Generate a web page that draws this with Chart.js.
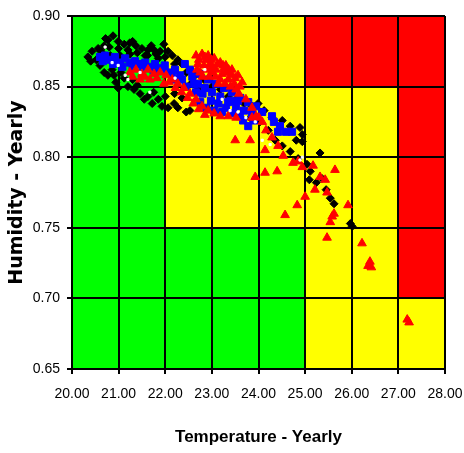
<!DOCTYPE html>
<html>
<head>
<meta charset="utf-8">
<script src="https://cdn.jsdelivr.net/npm/chart.js@4.4.1/dist/chart.umd.min.js"></script>
<style>
  html, body { margin: 0; padding: 0; background: #fff; }
  #climate { display: block; }
</style>
</head>
<body>
<canvas id="climate" width="464" height="453"></canvas>
<script>
'use strict';

// comfort zones (temperature range x humidity range)
var zoneXFrom = [20, 22, 22, 25, 25, 27, 27];
var zoneXTo   = [22, 25, 25, 27, 27, 28, 28];
var zoneYFrom = [0.65, 0.65, 0.75, 0.65, 0.85, 0.65, 0.70];
var zoneYTo   = [0.90, 0.75, 0.90, 0.85, 0.90, 0.70, 0.90];
var zoneLevel = ['ok', 'ok', 'warn', 'warn', 'bad', 'warn', 'bad'];

var xTicks = [20, 21, 22, 23, 24, 25, 26, 27, 28];
var yTicks = [0.65, 0.70, 0.75, 0.80, 0.85, 0.90];

// yearly temperature / humidity pairs per station group
var blackPts = [
    [20.34, 0.871], [20.43, 0.875], [20.52, 0.869], [20.56, 0.877], [20.69, 0.879],
    [20.77, 0.883], [20.88, 0.886], [20.99, 0.882], [21.12, 0.880], [21.24, 0.881],
    [21.37, 0.879], [21.50, 0.877], [21.63, 0.876], [21.76, 0.876], [21.89, 0.875],
    [21.97, 0.880], [22.06, 0.875], [22.15, 0.872], [22.27, 0.869], [22.36, 0.866],
    [20.60, 0.865], [20.69, 0.860], [20.77, 0.858], [20.86, 0.862], [20.94, 0.853],
    [20.99, 0.849], [21.12, 0.856], [21.20, 0.850], [21.33, 0.848], [21.46, 0.845],
    [21.55, 0.841], [21.63, 0.843], [21.72, 0.838], [21.85, 0.841], [21.93, 0.836],
    [22.06, 0.835], [22.19, 0.838], [22.27, 0.835], [22.36, 0.842], [22.45, 0.832],
    [22.53, 0.833], [21.03, 0.872], [21.24, 0.873], [21.57, 0.872], [21.85, 0.870],
    [20.82, 0.872], [22.45, 0.860], [22.64, 0.858], [22.83, 0.855], [23.00, 0.850],
    [23.18, 0.848], [23.35, 0.843], [23.52, 0.841], [23.69, 0.838], [23.86, 0.836],
    [23.99, 0.838], [24.12, 0.833], [24.29, 0.828], [24.51, 0.826], [24.68, 0.822],
    [24.89, 0.821], [24.94, 0.816], [24.81, 0.812], [24.94, 0.811], [24.36, 0.812],
    [24.51, 0.808], [24.68, 0.804], [24.85, 0.799], [25.04, 0.795], [25.32, 0.803],
    [25.36, 0.785], [25.11, 0.790], [25.24, 0.782], [25.09, 0.784], [25.45, 0.777],
    [25.54, 0.771], [25.62, 0.767], [25.97, 0.753], [26.01, 0.751], [24.21, 0.819],
    [24.03, 0.825], [23.82, 0.828],
    [20.40, 0.868], [20.62, 0.875], [20.80, 0.878], [21.00, 0.877], [21.20, 0.876],
    [21.40, 0.874], [21.62, 0.872], [21.80, 0.873], [22.00, 0.871], [22.20, 0.866],
    [20.72, 0.884], [21.30, 0.882], [21.70, 0.879], [20.90, 0.858], [21.05, 0.860],
    [21.30, 0.855], [21.40, 0.851], [21.75, 0.846], [22.00, 0.843], [22.20, 0.845],
    [22.55, 0.852], [22.70, 0.848]
];

var bluePts = [
    [20.60, 0.871], [20.71, 0.872], [20.82, 0.869], [20.92, 0.871], [21.03, 0.867],
    [21.14, 0.870], [21.24, 0.867], [21.35, 0.868], [21.46, 0.866], [21.57, 0.867],
    [21.67, 0.864], [21.78, 0.866], [21.89, 0.863], [21.99, 0.865], [22.10, 0.860],
    [22.21, 0.862], [22.32, 0.858], [22.42, 0.866], [22.53, 0.862], [22.58, 0.857],
    [22.70, 0.852], [22.75, 0.859], [22.85, 0.849], [22.92, 0.855], [23.00, 0.846],
    [23.09, 0.852], [23.18, 0.843], [23.26, 0.849], [23.35, 0.839], [23.43, 0.846],
    [23.52, 0.836], [23.61, 0.842], [23.69, 0.833], [23.78, 0.839], [23.86, 0.831],
    [23.95, 0.836], [22.75, 0.839], [22.88, 0.835], [23.05, 0.833], [23.22, 0.832],
    [23.67, 0.826], [23.78, 0.822], [24.33, 0.825], [24.46, 0.822], [24.42, 0.818],
    [24.59, 0.818], [24.72, 0.818], [24.29, 0.829], [24.08, 0.832], [22.19, 0.855],
    [22.45, 0.850],
    [20.66, 0.868], [20.88, 0.866], [21.08, 0.864], [21.30, 0.864], [21.52, 0.863],
    [21.74, 0.862], [21.95, 0.861], [22.15, 0.858], [22.36, 0.855], [22.62, 0.852],
    [22.80, 0.845], [22.98, 0.840], [23.14, 0.838], [23.30, 0.835], [23.46, 0.831],
    [23.60, 0.829], [23.56, 0.840], [23.40, 0.840], [22.66, 0.846], [23.90, 0.826]
];

var redPts = [
    [21.24, 0.860], [21.37, 0.862], [21.50, 0.859], [21.63, 0.862], [21.76, 0.859],
    [21.89, 0.860], [22.02, 0.858], [22.15, 0.855], [22.27, 0.852], [22.40, 0.849],
    [22.53, 0.845], [22.66, 0.841], [22.79, 0.836], [22.92, 0.833], [23.05, 0.831],
    [23.18, 0.829], [23.35, 0.829], [23.52, 0.828], [21.46, 0.855], [21.67, 0.855],
    [21.97, 0.852], [22.66, 0.872], [22.79, 0.873], [22.92, 0.872], [23.05, 0.870],
    [23.18, 0.867], [23.30, 0.865], [23.43, 0.862], [23.56, 0.858], [23.65, 0.853],
    [22.70, 0.866], [22.83, 0.865], [22.96, 0.866], [23.09, 0.862], [23.22, 0.859],
    [23.35, 0.855], [23.48, 0.852], [22.75, 0.860], [23.00, 0.860], [23.18, 0.855],
    [22.88, 0.869], [23.43, 0.858], [23.30, 0.860], [23.58, 0.845], [23.73, 0.841],
    [23.86, 0.835], [23.95, 0.829], [24.08, 0.825], [24.16, 0.819], [24.29, 0.814],
    [24.42, 0.808], [24.53, 0.801], [23.82, 0.812], [23.50, 0.812], [23.86, 0.828],
    [24.01, 0.828], [24.14, 0.805], [23.93, 0.786], [24.14, 0.789], [24.40, 0.790],
    [24.74, 0.796], [24.85, 0.797], [24.94, 0.793], [25.17, 0.794], [25.32, 0.786],
    [25.43, 0.784], [25.64, 0.791], [25.21, 0.777], [25.00, 0.772], [25.47, 0.775],
    [24.83, 0.766], [24.57, 0.759], [25.58, 0.758], [25.62, 0.760], [25.92, 0.766],
    [25.47, 0.743], [25.54, 0.754], [26.22, 0.739], [26.39, 0.726], [26.42, 0.722],
    [26.35, 0.723], [27.19, 0.685], [27.23, 0.683],
    [22.72, 0.869], [22.85, 0.871], [22.98, 0.869], [23.12, 0.866], [23.26, 0.863],
    [23.38, 0.860], [23.50, 0.856], [23.60, 0.850], [22.68, 0.862], [22.80, 0.857],
    [22.94, 0.857], [23.08, 0.857], [23.14, 0.852], [23.28, 0.852], [23.40, 0.850],
    [23.52, 0.848], [23.02, 0.864], [22.90, 0.862], [23.36, 0.862], [23.24, 0.865],
    [21.30, 0.857], [21.56, 0.857], [21.82, 0.856], [22.08, 0.853], [22.22, 0.849],
    [22.35, 0.846], [22.48, 0.842], [22.60, 0.838], [22.72, 0.834], [22.85, 0.830]
];

var whitePts = [
    [20.71, 0.878], [20.86, 0.867], [20.99, 0.865], [21.14, 0.858], [21.20, 0.855],
    [21.67, 0.846], [21.46, 0.860], [22.21, 0.856], [22.85, 0.862], [23.22, 0.841],
    [23.39, 0.833], [23.56, 0.832], [23.73, 0.828], [23.93, 0.825], [24.08, 0.812],
    [24.25, 0.809], [24.89, 0.798], [24.94, 0.800]
];

var zoneColors = { ok: '#00ff00', warn: '#ffff00', bad: '#ff0000' };
var face = "'Liberation Sans', Arial, sans-serif";

// paint the coloured zones under the grid
var zonePlugin = {
    id: 'zones',
    beforeDraw: function (chart) {
        var ctx = chart.ctx;
        var xs = chart.scales.x, ys = chart.scales.y;
        ctx.save();
        for (var i = 0; i < zoneLevel.length; i++) {
            var l = xs.getPixelForValue(zoneXFrom[i]);
            var r = xs.getPixelForValue(zoneXTo[i]);
            var t = ys.getPixelForValue(zoneYTo[i]);
            var b = ys.getPixelForValue(zoneYFrom[i]);
            ctx.fillStyle = zoneColors[zoneLevel[i]];
            ctx.fillRect(l, t, r - l, b - t);
        }
        ctx.restore();
    }
};

function series(pts, color, style, radius, order) {
    return {
        data: pts.map(function (p) { return { x: p[0], y: p[1] }; }),
        pointStyle: style,
        pointRadius: radius,
        pointBackgroundColor: color,
        pointBorderColor: color,
        pointBorderWidth: 1,
        order: order
    };
}

new Chart(document.getElementById('climate'), {
    type: 'scatter',
    data: {
        datasets: [
            series(whitePts, '#ffffff', 'rect', 1.5, 0),
            series(redPts, '#ff0000', 'triangle', 5, 1),
            series(bluePts, '#0000ff', 'rect', 5, 2),
            series(blackPts, '#000000', 'rectRot', 4, 3)
        ]
    },
    options: {
        responsive: false,
        animation: false,
        devicePixelRatio: 1,
        layout: { padding: { left: 0, top: 16, right: 19, bottom: 0 } },
        plugins: { legend: { display: false }, tooltip: { enabled: false } },
        scales: {
            x: {
                type: 'linear',
                min: 20,
                max: 28,
                afterBuildTicks: function (scale) {
                    scale.ticks = xTicks.map(function (v) { return { value: v }; });
                },
                afterFit: function (scale) {
                    scale.height = 84;
                    scale.paddingRight = 0;
                },
                grid: { color: '#000', lineWidth: 2, tickLength: 5, tickColor: '#000' },
                border: { color: '#000', width: 2 },
                ticks: {
                    color: '#000',
                    padding: 12,
                    maxRotation: 0,
                    font: { family: face, size: 14 },
                    callback: function (v) { return Number(v).toFixed(2); }
                },
                title: {
                    display: true,
                    text: 'Temperature - Yearly',
                    color: '#000',
                    padding: { top: 0, bottom: 5 },
                    font: { family: face, size: 17, weight: 'bold' }
                }
            },
            y: {
                type: 'linear',
                min: 0.65,
                max: 0.90,
                afterBuildTicks: function (scale) {
                    scale.ticks = yTicks.map(function (v) { return { value: v }; });
                },
                afterFit: function (scale) { scale.width = 72; },
                grid: { color: '#000', lineWidth: 2, tickLength: 5, tickColor: '#000' },
                border: { color: '#000', width: 2 },
                ticks: {
                    color: '#000',
                    padding: 7,
                    font: { family: face, size: 14 },
                    callback: function (v) { return Number(v).toFixed(2); }
                },
                title: {
                    display: true,
                    text: 'Humidity - Yearly',
                    color: '#000',
                    padding: { top: 6, bottom: 0 },
                    font: { family: "'DejaVu Sans', sans-serif", size: 19, weight: 'bold' }
                }
            }
        }
    },
    plugins: [zonePlugin]
});
</script>
</body>
</html>
